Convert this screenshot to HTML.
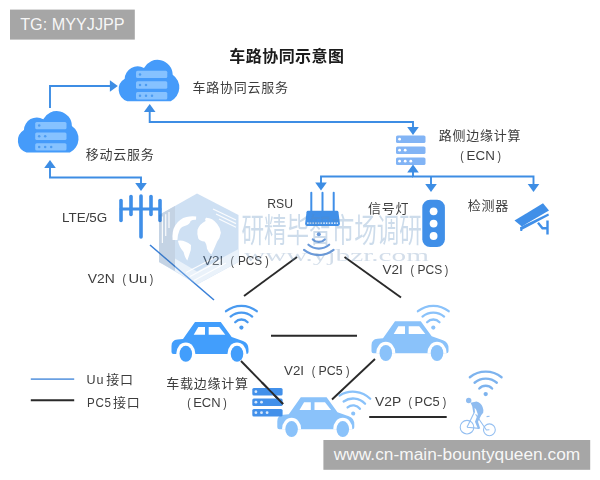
<!DOCTYPE html>
<html lang="zh-CN">
<head>
<meta charset="utf-8">
<title>车路协同示意图</title>
<style>
html,body{margin:0;padding:0;background:#fff;}
body{width:600px;height:480px;overflow:hidden;position:relative;font-family:"Liberation Sans","Noto Sans CJK SC",sans-serif;}
svg{position:absolute;left:0;top:0;display:block;}
text{font-family:"Liberation Sans","Noto Sans CJK SC",sans-serif;}
.t{font-size:13px;fill:#3d3d3d;letter-spacing:0.75px;}
.tl{font-size:13px;fill:#3d3d3d;}
.title{font-size:16px;font-weight:700;fill:#1a1a1a;letter-spacing:0.45px;}
.bl{stroke:#3d8de4;stroke-width:1.9;fill:none;}
.ah{fill:#3d8de4;}
.kl{stroke:#2a2a2a;stroke-width:1.9;fill:none;}
</style>
</head>
<body>
<svg width="600" height="480" viewBox="0 0 600 480">
<defs>
  <g id="cloud">
    <path d="M8.3 41.3 A12.5 12.5 0 0 1 5.7 18.7 A12.9 12.9 0 0 1 25 8 A15.2 15.2 0 0 1 53.7 14.7 A15.5 15.5 0 0 1 51.7 41.3Z" fill="#449bfa"/>
    <g fill="#86c2ff">
      <rect x="17" y="10.7" width="31.3" height="7.4" rx="1.5"/>
      <rect x="17" y="21.3" width="31.3" height="7.4" rx="1.5"/>
      <rect x="17" y="32" width="31.3" height="7.4" rx="1.5"/>
    </g>
    <g fill="#4c9cf2">
      <circle cx="21" cy="14.4" r="1.25"/>
      <circle cx="21" cy="25" r="1.25"/><circle cx="27" cy="25" r="1.25"/>
      <circle cx="21" cy="35.7" r="1.25"/><circle cx="27" cy="35.7" r="1.25"/><circle cx="33" cy="35.7" r="1.25"/>
    </g>
  </g>
  <g id="car">
    <path d="M23.5 0 H49.3 L60.2 15 L71.5 19 Q77 21 77 27 V30 Q77 32 75 32 H2 Q0 32 0 30 V24 Q0 18 6 17.5 L11.5 17 Z"/>
    <path d="M4.8 32.3 V31.5 A9.5 11 0 0 1 23.8 31.5 V32.3Z" fill="#fff"/>
    <path d="M56 32.3 V31.5 A9.5 11 0 0 1 75 31.5 V32.3Z" fill="#fff"/>
    <ellipse cx="14.3" cy="31.8" rx="6.3" ry="8"/>
    <ellipse cx="65.5" cy="31.8" rx="6.3" ry="8"/>
    <path d="M26.8 5 H33.5 V12.8 H22.2 Z" fill="#fff"/>
    <path d="M37.2 5 H47.7 L53.8 12.8 H37.2 Z" fill="#fff"/>
  </g>
  <g id="wifi" stroke-width="2.3" stroke-linecap="round">
    <circle cx="0" cy="0" r="2.1" stroke="none"/>
    <path fill="none" d="M-6.2 -5.4 A8.5 8.5 0 0 1 6.2 -5.4"/>
    <path fill="none" d="M-10.8 -11 A16.6 16.6 0 0 1 10.8 -11"/>
    <path fill="none" d="M-15.4 -16.4 A24.7 24.7 0 0 1 15.4 -16.4"/>
  </g>
  <filter id="soft" x="0" y="0" width="600" height="480" filterUnits="userSpaceOnUse"><feGaussianBlur stdDeviation="0.45"/></filter>
</defs>
<rect width="600" height="480" fill="#fff"/>
<g id="diagram" filter="url(#soft)">
<g class="bl">
  <path d="M50 108 V86 H111"/>
  <path d="M149.7 110 V122 H413 V128"/>
  <path d="M50 167 V177.5 H141 V184"/>
  <path d="M413 171 V176.5 H533.5 V185"/>
  <path d="M321 184 V176.5 H413"/>
  <path d="M431 176.5 V185"/>
</g>
<g class="ah"><polygon points="117.8,86.0 109.9,80.2 109.9,91.8"/><polygon points="149.7,104.0 143.9,111.9 155.5,111.9"/><polygon points="413.0,135.0 407.2,127.1 418.8,127.1"/><polygon points="50.0,160.0 44.2,167.9 55.8,167.9"/><polygon points="141.0,191.0 135.2,183.1 146.8,183.1"/><polygon points="321.0,190.5 315.2,182.6 326.8,182.6"/><polygon points="431.0,192.0 425.2,184.1 436.8,184.1"/><polygon points="533.5,192.0 527.7,184.1 539.3,184.1"/></g>
<use href="#cloud" x="119" y="60"/>
<use href="#cloud" x="18.2" y="111.2"/>
<g fill="#82b4f5"><rect x="396.0" y="135.5" width="29.5" height="7.5" rx="1.6"/><rect x="396.0" y="146.5" width="29.5" height="7.5" rx="1.6"/><rect x="396.0" y="157.5" width="29.5" height="7.5" rx="1.6"/></g><g fill="#fff"><circle cx="399.6" cy="139.2" r="1.4"/><circle cx="399.6" cy="150.2" r="1.4"/><circle cx="405.2" cy="150.2" r="1.4"/><circle cx="399.6" cy="161.2" r="1.4"/><circle cx="405.2" cy="161.2" r="1.4"/><circle cx="410.8" cy="161.2" r="1.4"/></g>
<g class="ah"><polygon points="413.0,164.5 407.2,172.4 418.8,172.4"/></g>
<g stroke="#3f8fe8" stroke-width="3.6" stroke-linecap="round" fill="none">
  <path d="M121 200.5 V220.5"/>
  <path d="M131 196.5 V214.5"/>
  <path d="M141 196 V237"/>
  <path d="M151 196.5 V214.5"/>
  <path d="M160 200.5 V220.5"/>
  <path d="M121 209 H160" stroke-width="3"/>
</g>
<path d="M150 245 L214 300" stroke="#3a80d8" stroke-width="1.6" fill="none"/>
<g stroke="#3f8fe8" stroke-width="2" stroke-linecap="round">
  <path d="M311.3 192.8 V212"/><path d="M322.5 192.8 V212"/><path d="M333.7 192.8 V212"/>
</g>
<path d="M308 210.8 H337 Q338.3 210.8 338.5 212.2 L339.9 223.5 Q340.1 225.9 338 225.9 H307 Q304.9 225.9 305.1 223.5 L306.5 212.2 Q306.7 210.8 308 210.8Z" fill="#3f8fe8"/>
<path d="M307 223.1 H338" stroke="#fff" stroke-width="1.1" stroke-dasharray="1.6 1.1"/>
<g fill="#6b9ada" stroke="#6b9ada" transform="translate(318.8 234.2) scale(0.96 -0.96)"><use href="#wifi"/></g>
<rect x="422.3" y="199.8" width="22.6" height="47.2" rx="7.8" fill="#3f8fe8"/>
<g fill="#fff"><circle cx="433.6" cy="211.3" r="3.9"/><circle cx="433.6" cy="223.6" r="3.9"/><circle cx="433.6" cy="236" r="3.9"/></g>
<g fill="#3f8fe8">
  <polygon points="514.5,220.5 543,203.2 549,210.5 521.8,226.5"/>
  <polygon points="520,227.2 548.2,213.6 549,215.4 522.5,229.6 522.2,231 520.3,231"/>
</g>
<path d="M538 222.8 L542.5 228.3 H547.5 M547.5 220.5 V234.5" stroke="#3f8fe8" stroke-width="2.4" fill="none"/>
<g class="kl">
  <path d="M297 257 L244 296"/>
  <path d="M344.5 257 L401 297.5"/>
  <path d="M271 335.7 H357"/>
  <path d="M241 361 L283 404"/>
  <path d="M375 359 L332 399.5"/>
  <path d="M369.2 417 H446.7"/>
  <path d="M30.8 400.2 H74.2"/>
</g>
<path d="M30.8 379.1 H74.2" stroke="#6aa0e2" stroke-width="1.6"/>
<g fill="#429efc"><use href="#car" x="171.5" y="322"/></g>
<g fill="#8ac2fa"><use href="#car" x="371.5" y="321.2"/></g>
<g fill="#8ac2fa"><use href="#car" x="277.3" y="397.3"/></g>
<g fill="#4a9af0" stroke="#4a9af0"><use href="#wifi" x="241.4" y="327.6"/></g>
<g fill="#8ac2fa" stroke="#8ac2fa"><use href="#wifi" x="433.3" y="327.6"/></g>
<g fill="#8ac2fa" stroke="#8ac2fa" transform="rotate(6 353.2 413.5)"><use href="#wifi" x="353.2" y="413.5"/></g>
<g fill="#7db3ee" stroke="#7db3ee" transform="translate(485.7 394.1) scale(1.03)"><use href="#wifi"/></g>
<g fill="#4290ea"><rect x="252.3" y="387.9" width="30.3" height="7.6" rx="1.6"/><rect x="252.3" y="398.4" width="30.3" height="7.6" rx="1.6"/><rect x="252.3" y="408.9" width="30.3" height="7.6" rx="1.6"/></g><g fill="#d8e8fb"><circle cx="255.9" cy="391.7" r="1.4"/><circle cx="255.9" cy="402.2" r="1.4"/><circle cx="261.5" cy="402.2" r="1.4"/><circle cx="255.9" cy="412.7" r="1.4"/><circle cx="261.5" cy="412.7" r="1.4"/><circle cx="267.1" cy="412.7" r="1.4"/></g>
<path class="kl" d="M262 382.5 L283 404"/>
<g stroke="#94bff1" stroke-width="1.1" fill="none">
  <circle cx="467" cy="427.2" r="6.8"/>
  <circle cx="489.4" cy="429.8" r="5.9"/>
  <path d="M467 427.2 L474.2 412.6 M475.6 414.2 L486.4 430 L489.4 429.8 M467 427.2 L479 428.4 M486.6 416.6 L489.6 416.2"/>
</g>
<g fill="#8fbcf0">
  <circle cx="468.7" cy="400.5" r="2.7"/>
  <path d="M470.6 402.8 L476.5 401.6 Q481 403 482.6 407 Q484 410.5 483.2 412.8 L481.2 415.2 L478 421.8 L480.2 428.4 L478 429 L475 421.8 L477.8 414.2 L476.2 409.8 L474.6 407.8 L475 412.8 L473.3 412.8 L472.2 406.2Z"/>
</g>
<text class="title" x="229.3" y="62.2">车路协同示意图</text>
<text class="t" x="192.5" y="92">车路协同云服务</text>
<text class="t" x="85.7" y="158.5">移动云服务</text>
<text class="tl" y="222.3" font-size="12.5"><tspan x="62.0" textLength="45.3" lengthAdjust="spacingAndGlyphs">LTE/5G</tspan></text>
<text class="t" x="438.8" y="139.7">路侧边缘计算</text>
<text class="tl" y="160.0"><tspan x="460.3" textLength="3.5" lengthAdjust="spacingAndGlyphs">(</tspan><tspan x="466.6" textLength="28.2" lengthAdjust="spacingAndGlyphs">ECN</tspan><tspan x="497.6" textLength="3.5" lengthAdjust="spacingAndGlyphs">)</tspan></text>
<text class="tl" y="207.6" font-size="12.5"><tspan x="267.3" textLength="25.7" lengthAdjust="spacingAndGlyphs">RSU</tspan></text>
<text class="t" x="368" y="213.3">信号灯</text>
<text class="t" x="467.8" y="210">检测器</text>
<text class="tl" y="265.2"><tspan x="203.0" textLength="20.2" lengthAdjust="spacingAndGlyphs">V2I</tspan><tspan x="230.6" textLength="3.5" lengthAdjust="spacingAndGlyphs">(</tspan><tspan x="238.0" textLength="24.2" lengthAdjust="spacingAndGlyphs">PCS</tspan><tspan x="265.2" textLength="3.5" lengthAdjust="spacingAndGlyphs">)</tspan></text>
<text class="tl" y="274.0"><tspan x="382.5" textLength="20.2" lengthAdjust="spacingAndGlyphs">V2I</tspan><tspan x="410.4" textLength="3.5" lengthAdjust="spacingAndGlyphs">(</tspan><tspan x="417.5" textLength="24.7" lengthAdjust="spacingAndGlyphs">PCS</tspan><tspan x="444.8" textLength="3.5" lengthAdjust="spacingAndGlyphs">)</tspan></text>
<text class="tl" y="283.0"><tspan x="87.8" textLength="27.0" lengthAdjust="spacingAndGlyphs">V2N</tspan><tspan x="122.5" textLength="3.5" lengthAdjust="spacingAndGlyphs">(</tspan><tspan x="128.4" textLength="18.8" lengthAdjust="spacingAndGlyphs">Uu</tspan><tspan x="149.7" textLength="3.5" lengthAdjust="spacingAndGlyphs">)</tspan></text>
<text class="tl" y="375.2"><tspan x="284.0" textLength="20.0" lengthAdjust="spacingAndGlyphs">V2I</tspan><tspan x="311.8" textLength="3.5" lengthAdjust="spacingAndGlyphs">(</tspan><tspan x="318.6" textLength="24.1" lengthAdjust="spacingAndGlyphs">PC5</tspan><tspan x="345.9" textLength="3.5" lengthAdjust="spacingAndGlyphs">)</tspan></text>
<text class="tl" y="406.0"><tspan x="375.0" textLength="26.2" lengthAdjust="spacingAndGlyphs">V2P</tspan><tspan x="408.4" textLength="3.5" lengthAdjust="spacingAndGlyphs">(</tspan><tspan x="414.6" textLength="25.1" lengthAdjust="spacingAndGlyphs">PC5</tspan><tspan x="442.7" textLength="3.5" lengthAdjust="spacingAndGlyphs">)</tspan></text>
<text class="t" x="166.2" y="388">车载边缘计算</text>
<text class="tl" y="407.0"><tspan x="187.2" textLength="3.5" lengthAdjust="spacingAndGlyphs">(</tspan><tspan x="193.2" textLength="27.4" lengthAdjust="spacingAndGlyphs">ECN</tspan><tspan x="223.3" textLength="3.5" lengthAdjust="spacingAndGlyphs">)</tspan></text>
<text class="t" y="384"><tspan x="86.6" textLength="17.5" lengthAdjust="spacingAndGlyphs">Uu</tspan><tspan x="106.2">接口</tspan></text>
<text class="t" y="406.7"><tspan x="87" textLength="24.6" lengthAdjust="spacingAndGlyphs">PC5</tspan><tspan x="113.1">接口</tspan></text>
<g id="wm" opacity="0.3">
  <polygon points="197,193.5 238.5,215 238.5,262 197,284.5 159,262 159,215" fill="#5d96d6"/>
  <polygon points="159,215 175,206 175,271 159,262" fill="#3f6ca6"/>
  <polygon points="175,271 197,284.5 238.5,262 238.5,249 197,271.5 175,258.5" fill="#b7d2ee"/>
  <g fill="#fff">
    <path d="M172.6 240 Q171.8 231 175.2 225.4 Q179.5 218.6 186.5 217 Q191.5 215.9 196.2 216.6 L196 219.8 Q192.5 219.6 190.6 221 Q189.8 224.4 186 225.6 Q181.5 226.6 179.6 230 Q177.6 234.5 177.4 240Z"/>
    <path d="M177.9 240.7 Q184.5 239.6 191 245.1 Q191.4 250 189.5 254 L187.3 260.4 Q185 258 183.6 252 Q179.2 247 177.9 240.7Z"/>
    <path d="M197.5 229.8 Q199.5 224 205.6 221 Q204.4 219 206 217.8 Q212 217.5 217.2 224 Q220.5 228 220.9 232.7 Q220 238 217.2 241.4 Q214 249 211.4 254.6 Q208.5 252.5 207 248.7 Q206.5 243.5 204.5 241.5 Q200 241 198.3 238.5 Q196.8 234 197.5 229.8Z"/>
  </g>
  <g stroke="#fff" stroke-width="1.2" opacity="0.9" fill="none">
    <path d="M162.4 216.5 V243"/><path d="M165.7 214.2 V236"/><path d="M169 212 V228"/>
    <path d="M213 209 L236 220"/><path d="M216 214 L236 223.6"/><path d="M219 219 L236 227.2"/>
    <path d="M186 272.5 L216 257"/><path d="M190 276.5 L221 260"/><path d="M194 280.5 L226 263"/>
  </g>
  <text x="241.4" y="242.2" font-size="33" font-weight="400" fill="#588abc" textLength="180.5" lengthAdjust="spacingAndGlyphs">研精毕智市场调研</text>
  <text x="244" y="261.2" style="font-family:'Liberation Serif',serif" font-size="17" fill="#6b8fb8" textLength="185" lengthAdjust="spacingAndGlyphs">www.yjbzr.com</text>
</g>
</g>
<rect x="10" y="9.6" width="124.8" height="30" fill="#a6a6a6"/>
<text x="20.2" y="30.3" font-size="16.2" fill="#fff" fill-opacity="0.93" textLength="104.5" lengthAdjust="spacingAndGlyphs">TG: MYYJJPP</text>
<rect x="323.4" y="440" width="266.8" height="29.8" fill="#a6a6a6"/>
<text x="333.8" y="459.9" font-size="17.3" fill="#fff" fill-opacity="0.93" textLength="246.5" lengthAdjust="spacingAndGlyphs">www.cn-main-bountyqueen.com</text>
</svg>
</body>
</html>
